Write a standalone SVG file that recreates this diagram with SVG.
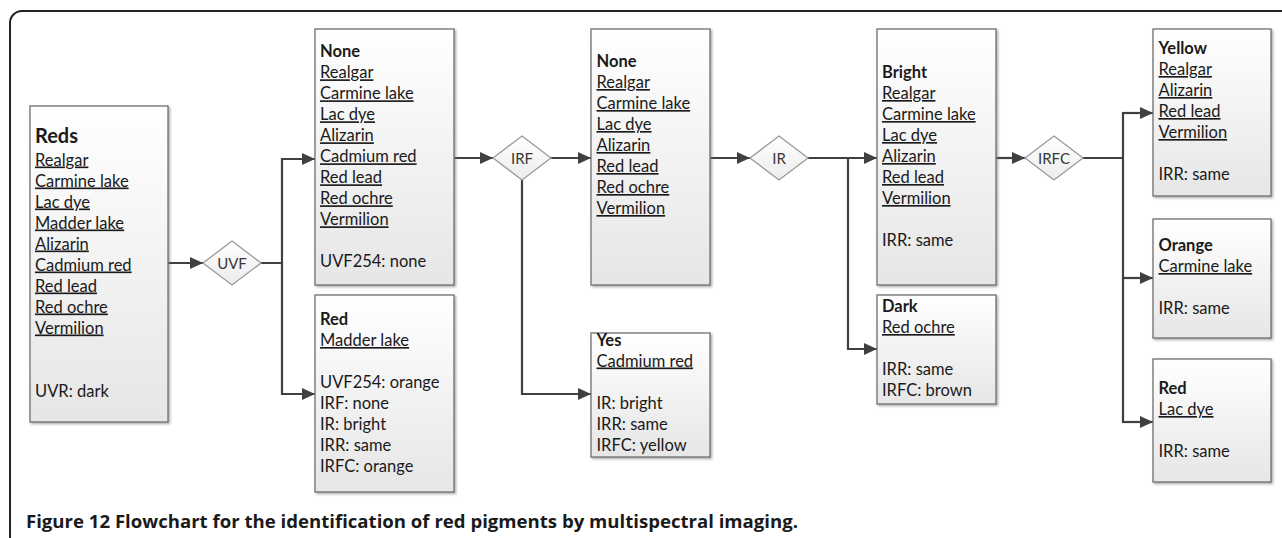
<svg xmlns="http://www.w3.org/2000/svg" width="1282" height="538" viewBox="0 0 1282 538">
<defs>
<linearGradient id="boxg" x1="0" y1="0" x2="0" y2="1">
<stop offset="0" stop-color="#ffffff"/>
<stop offset="1" stop-color="#e6e6e6"/>
</linearGradient>
<linearGradient id="diag" x1="0" y1="0" x2="0" y2="1">
<stop offset="0" stop-color="#ffffff"/>
<stop offset="1" stop-color="#ececec"/>
</linearGradient>
<filter id="sh" x="-10%" y="-10%" width="125%" height="125%">
<feDropShadow dx="1.5" dy="1.5" stdDeviation="1" flood-color="#777" flood-opacity="0.6"/>
</filter>
<marker id="arr" markerUnits="userSpaceOnUse" markerWidth="13" markerHeight="12" refX="13" refY="6" orient="auto">
<path d="M0,0 L13,6 L0,12 z" fill="#404040"/>
</marker>
</defs>
<style>
.box{fill:url(#boxg);stroke:#707070;stroke-width:1.3;filter:url(#sh)}
.dia{fill:url(#diag);stroke:#9a9a9a;stroke-width:1.3}
.t{font-family:Lato,"Liberation Sans",sans-serif;font-size:16.5px;fill:#1a1a1a}
.b{font-weight:bold}
.u{text-decoration:underline}
.dl{font-family:Lato,"Liberation Sans",sans-serif;font-size:15px;fill:#383838;text-anchor:middle}
.c{fill:none;stroke:#404040;stroke-width:2.2}
.ca{fill:none;stroke:#404040;stroke-width:2.2;marker-end:url(#arr)}
</style>
<rect width="1282" height="538" fill="#ffffff"/>
<path d="M10,538 V23 A12,12 0 0 1 22,11 H1282" fill="none" stroke="#222" stroke-width="2"/>

<g id="connectors">
<path class="ca" d="M168,263 H203"/>
<path class="c" d="M261,263 H282 M282,158 V395"/>
<path class="ca" d="M281,159 H315"/>
<path class="ca" d="M281,394 H315"/>
<path class="ca" d="M454,158 H493"/>
<path class="ca" d="M551,158 H591"/>
<path class="ca" d="M522,180 V394 H591"/>
<path class="ca" d="M710,158 H750"/>
<path class="ca" d="M808,158 H877"/>
<path class="ca" d="M848,158 V349 H877"/>
<path class="ca" d="M996,158 H1025"/>
<path class="c" d="M1083,158 H1123 M1123,112 V423"/>
<path class="ca" d="M1122,113 H1153"/>
<path class="ca" d="M1122,278 H1153"/>
<path class="ca" d="M1122,422 H1153"/>
</g>

<g id="reds">
<rect class="box" x="30" y="106" width="138" height="316"/>
<text class="t b" x="35" y="142.5" style="font-size:20px">Reds</text>
<text class="t"><tspan class="u" x="35" y="165.5">Realgar</tspan><tspan class="u" x="35" y="186.5">Carmine lake</tspan><tspan class="u" x="35" y="207.5">Lac dye</tspan><tspan class="u" x="35" y="228.5">Madder lake</tspan><tspan class="u" x="35" y="249.5">Alizarin</tspan><tspan class="u" x="35" y="270.5">Cadmium red</tspan><tspan class="u" x="35" y="291.5">Red lead</tspan><tspan class="u" x="35" y="312.5">Red ochre</tspan><tspan class="u" x="35" y="333.5">Vermilion</tspan><tspan x="35" y="396.5">UVR: dark</tspan></text>
</g>

<g id="uvf">
<polygon class="dia" points="232,241 261,263 232,285 203,263"/>
<text class="dl" x="232" y="268.5">UVF</text>
</g>

<g id="uvf-none">
<rect class="box" x="315" y="29" width="139" height="256"/>
<text class="t"><tspan class="b" x="320" y="57.3">None</tspan><tspan class="u" x="320" y="78.3">Realgar</tspan><tspan class="u" x="320" y="99.3">Carmine lake</tspan><tspan class="u" x="320" y="120.3">Lac dye</tspan><tspan class="u" x="320" y="141.3">Alizarin</tspan><tspan class="u" x="320" y="162.3">Cadmium red</tspan><tspan class="u" x="320" y="183.3">Red lead</tspan><tspan class="u" x="320" y="204.3">Red ochre</tspan><tspan class="u" x="320" y="225.3">Vermilion</tspan><tspan x="320" y="267.3">UVF254: none</tspan></text>
</g>

<g id="uvf-red">
<rect class="box" x="315" y="295" width="139" height="197"/>
<text class="t"><tspan class="b" x="320" y="325">Red</tspan><tspan class="u" x="320" y="346">Madder lake</tspan><tspan x="320" y="388">UVF254: orange</tspan><tspan x="320" y="409">IRF: none</tspan><tspan x="320" y="430">IR: bright</tspan><tspan x="320" y="451">IRR: same</tspan><tspan x="320" y="472">IRFC: orange</tspan></text>
</g>

<g id="irf">
<polygon class="dia" points="522,136 551,158 522,180 493,158"/>
<text class="dl" x="522" y="163.5">IRF</text>
</g>

<g id="irf-none">
<rect class="box" x="591" y="29" width="119" height="256"/>
<text class="t"><tspan class="b" x="596.5" y="67">None</tspan><tspan class="u" x="596.5" y="88">Realgar</tspan><tspan class="u" x="596.5" y="109">Carmine lake</tspan><tspan class="u" x="596.5" y="130">Lac dye</tspan><tspan class="u" x="596.5" y="151">Alizarin</tspan><tspan class="u" x="596.5" y="172">Red lead</tspan><tspan class="u" x="596.5" y="193">Red ochre</tspan><tspan class="u" x="596.5" y="214">Vermilion</tspan></text>
</g>

<g id="irf-yes">
<rect class="box" x="591" y="333" width="119" height="124"/>
<text class="t"><tspan class="b" x="596.5" y="345.5">Yes</tspan><tspan class="u" x="596.5" y="366.5">Cadmium red</tspan><tspan x="596.5" y="408.5">IR: bright</tspan><tspan x="596.5" y="429.5">IRR: same</tspan><tspan x="596.5" y="450.5">IRFC: yellow</tspan></text>
</g>

<g id="ir">
<polygon class="dia" points="779,136 808,158 779,180 750,158"/>
<text class="dl" x="779" y="163.5">IR</text>
</g>

<g id="ir-bright">
<rect class="box" x="877" y="29" width="119" height="256"/>
<text class="t"><tspan class="b" x="882" y="78">Bright</tspan><tspan class="u" x="882" y="99">Realgar</tspan><tspan class="u" x="882" y="120">Carmine lake</tspan><tspan class="u" x="882" y="141">Lac dye</tspan><tspan class="u" x="882" y="162">Alizarin</tspan><tspan class="u" x="882" y="183">Red lead</tspan><tspan class="u" x="882" y="204">Vermilion</tspan><tspan x="882" y="246">IRR: same</tspan></text>
</g>

<g id="ir-dark">
<rect class="box" x="877" y="295" width="119" height="109"/>
<text class="t"><tspan class="b" x="882" y="312">Dark</tspan><tspan class="u" x="882" y="333">Red ochre</tspan><tspan x="882" y="375">IRR: same</tspan><tspan x="882" y="396">IRFC: brown</tspan></text>
</g>

<g id="irfc">
<polygon class="dia" points="1054,136 1083,158 1054,180 1025,158"/>
<text class="dl" x="1054" y="163.5">IRFC</text>
</g>

<g id="irfc-yellow">
<rect class="box" x="1153" y="29" width="118" height="167"/>
<text class="t"><tspan class="b" x="1158.5" y="54">Yellow</tspan><tspan class="u" x="1158.5" y="75">Realgar</tspan><tspan class="u" x="1158.5" y="96">Alizarin</tspan><tspan class="u" x="1158.5" y="117">Red lead</tspan><tspan class="u" x="1158.5" y="138">Vermilion</tspan><tspan x="1158.5" y="180">IRR: same</tspan></text>
</g>

<g id="irfc-orange">
<rect class="box" x="1153" y="219" width="118" height="119"/>
<text class="t"><tspan class="b" x="1158.5" y="251">Orange</tspan><tspan class="u" x="1158.5" y="272">Carmine lake</tspan><tspan x="1158.5" y="314">IRR: same</tspan></text>
</g>

<g id="irfc-red">
<rect class="box" x="1153" y="359" width="118" height="123"/>
<text class="t"><tspan class="b" x="1158.5" y="394">Red</tspan><tspan class="u" x="1158.5" y="415">Lac dye</tspan><tspan x="1158.5" y="457">IRR: same</tspan></text>
</g>

<text x="26" y="528" textLength="772" lengthAdjust="spacingAndGlyphs" style="font-family:'Open Sans','Liberation Sans',sans-serif;font-weight:bold;font-size:17.5px;fill:#1a1a1a">Figure 12 Flowchart for the identification of red pigments by multispectral imaging.</text>
</svg>
